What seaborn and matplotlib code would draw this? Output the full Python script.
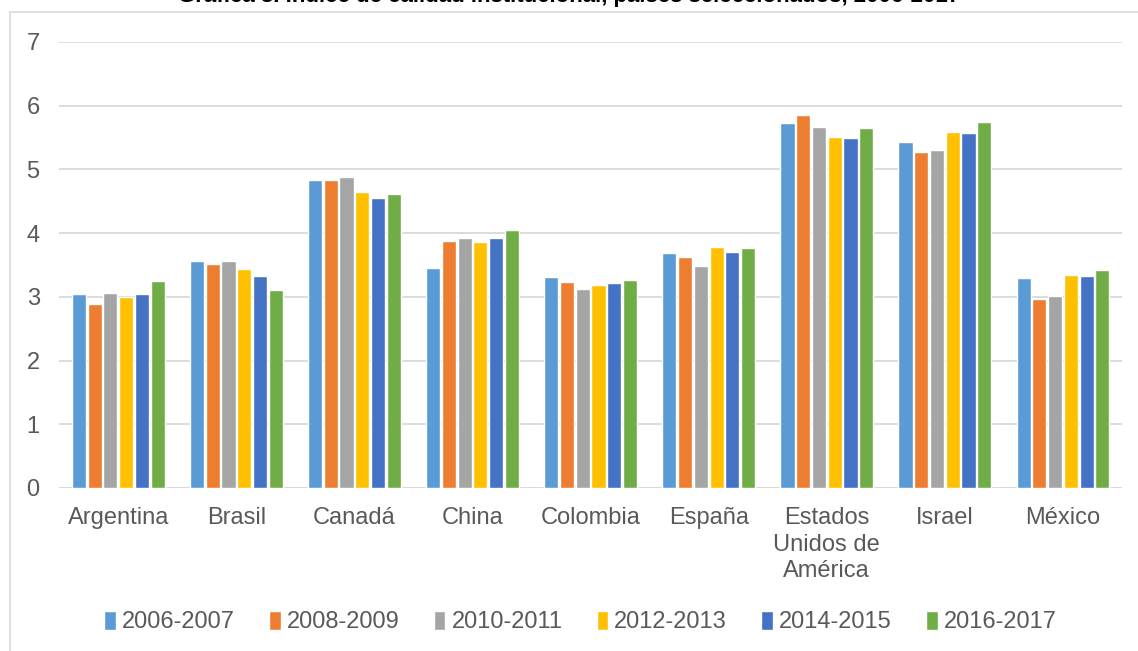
#!/usr/bin/env python3
"""Grouped bar chart: index values by country, 2006-2017 (Excel-style)."""

import matplotlib.pyplot as plt
import pandas as pd
import seaborn as sns
from matplotlib.patches import Rectangle

countries = ["Argentina", "Brasil", "Canadá", "China", "Colombia", "España",
             "Estados\nUnidos de\nAmérica", "Israel", "México"]
periods = ["2006-2007", "2008-2009", "2010-2011", "2012-2013", "2014-2015", "2016-2017"]

v_2006 = [3.04, 3.57, 4.83, 3.45, 3.31, 3.69, 5.73, 5.43, 3.30]
v_2008 = [2.88, 3.51, 4.83, 3.88, 3.23, 3.62, 5.85, 5.27, 2.96]
v_2010 = [3.06, 3.56, 4.88, 3.92, 3.12, 3.48, 5.66, 5.31, 3.01]
v_2012 = [2.99, 3.43, 4.65, 3.86, 3.18, 3.78, 5.51, 5.58, 3.34]
v_2014 = [3.05, 3.32, 4.55, 3.92, 3.22, 3.70, 5.49, 5.57, 3.32]
v_2016 = [3.25, 3.11, 4.62, 4.05, 3.27, 3.77, 5.65, 5.74, 3.42]

palette = ["#5B9BD5", "#ED7D31", "#A5A5A5", "#FFC000", "#4472C4", "#70AD47"]
title = "Gráfica 3. Índice de calidad institucional, países seleccionados, 2006-2017"


def main() -> None:
    rows = []
    for period, vals in zip(periods, [v_2006, v_2008, v_2010, v_2012, v_2014, v_2016]):
        for country, v in zip(countries, vals):
            rows.append({"pais": country, "periodo": period, "valor": v})
    df = pd.DataFrame(rows)

    sns.set_theme(style="white")
    plt.rcParams["font.family"] = ["Liberation Sans", "DejaVu Sans"]

    fig = plt.figure(figsize=(11.38, 6.51), dpi=100)
    ax = fig.add_axes([0.052, 0.2504, 0.934, 0.6851])

    # chart frame, Excel-like
    fig.patches.append(Rectangle((10 / 1138, -0.1), 1.2, 0.1 + 1 - 12 / 651,
                                 transform=fig.transFigure, fill=False,
                                 edgecolor="#D9D9D9", linewidth=1.2, zorder=0))

    sns.barplot(data=df, x="pais", y="valor", hue="periodo", hue_order=periods,
                order=countries, palette=palette, width=0.8, gap=0.1,
                saturation=1, ax=ax, zorder=3)

    ax.set_ylim(0, 7)
    ax.set_xlim(-0.5, len(countries) - 0.5)
    ax.set_yticks(range(0, 8))
    ax.yaxis.grid(True, color="#D9D9D9", linewidth=1.3, zorder=0)
    ax.set_axisbelow(True)
    for s in ax.spines.values():
        s.set_visible(False)
    ax.tick_params(axis="both", length=0, labelsize=17, colors="#595959")
    ax.tick_params(axis="x", pad=14)
    ax.tick_params(axis="y", pad=14)
    for lbl in ax.get_xticklabels():
        lbl.set_linespacing(1.25)
    ax.set_xlabel("")
    ax.set_ylabel("")
    ax.axhline(0, color="#D9D9D9", linewidth=1.3, zorder=1)

    handles, labels = ax.get_legend_handles_labels()
    ax.legend(handles, labels, loc="center", bbox_to_anchor=(0.51, 1 - 622 / 651),
              bbox_transform=fig.transFigure, ncol=6, frameon=False,
              fontsize=17, labelcolor="#595959", handlelength=0.5,
              handleheight=0.9, handletextpad=0.25, columnspacing=1.45)

    fig.text(0.5, 1 - 2 / 651, title, ha="center", va="baseline",
             fontsize=16, fontweight="bold", color="black")

    fig.savefig("out.png", dpi=100)
    plt.close(fig)


if __name__ == "__main__":
    main()
